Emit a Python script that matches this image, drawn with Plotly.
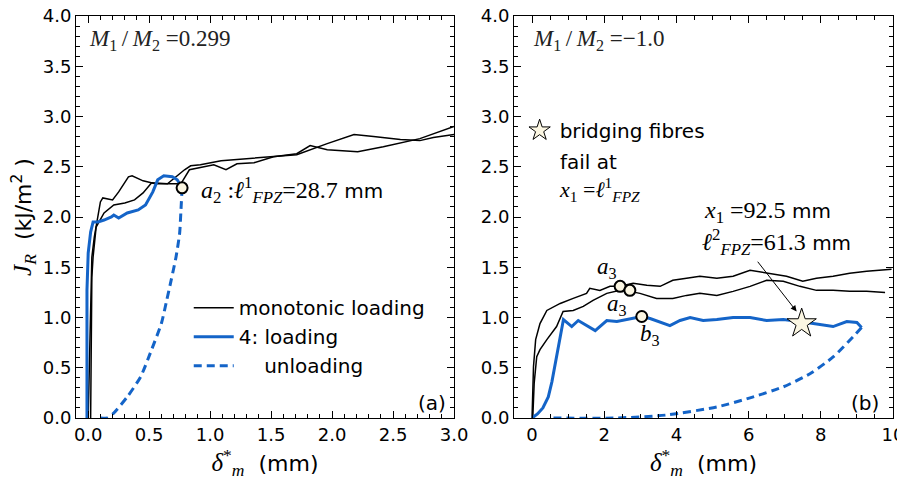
import plotly.graph_objects as go

# ---------------- data: panel (a) M1/M2 = 0.299 ----------------
a_mono1_x = [0.0, 0.01, 0.02, 0.03, 0.05, 0.07, 0.10, 0.12, 0.20, 0.25, 0.33, 0.36, 0.45, 0.55, 0.76, 0.83,
             0.92, 1.03, 1.13, 1.22, 1.36, 1.52, 1.71, 1.82, 1.96, 2.21, 2.42, 2.72, 3.0]
a_mono1_y = [0.0, 0.5, 1.2, 1.6, 1.8, 1.95, 2.15, 2.19, 2.17, 2.25, 2.40, 2.41, 2.36, 2.33, 2.33, 2.47,
             2.49, 2.52, 2.47, 2.53, 2.54, 2.60, 2.63, 2.71, 2.67, 2.65, 2.70, 2.78, 2.90]
a_mono2_x = [0.02, 0.025, 0.03, 0.04, 0.065, 0.13, 0.21, 0.30, 0.38, 0.45, 0.52, 0.65, 0.79, 0.84, 0.92,
             1.09, 1.28, 1.47, 1.71, 1.96, 2.18, 2.34, 2.56, 2.72, 2.83, 3.0]
a_mono2_y = [0.0, 0.8, 1.4, 1.6, 1.90, 2.04, 2.12, 2.14, 2.17, 2.24, 2.34, 2.33, 2.47, 2.51, 2.52,
             2.56, 2.58, 2.60, 2.62, 2.73, 2.82, 2.80, 2.77, 2.76, 2.79, 2.82]
a_load_x = [-0.01, -0.01, 0.0, 0.02, 0.04, 0.08, 0.13, 0.19, 0.21, 0.25, 0.32, 0.41, 0.47, 0.53, 0.57,
            0.62, 0.69, 0.73, 0.77]
a_load_y = [0.0, 1.27, 1.64, 1.85, 1.95, 1.95, 1.97, 2.00, 2.02, 1.99, 2.04, 2.07, 2.12, 2.25, 2.37,
            2.41, 2.40, 2.37, 2.29]
a_unload_x = [0.77, 0.76, 0.75, 0.72, 0.68, 0.64, 0.60, 0.52, 0.43, 0.32, 0.21, 0.16, 0.10]
a_unload_y = [2.29, 2.05, 1.84, 1.60, 1.37, 1.15, 0.94, 0.68, 0.41, 0.21, 0.05, 0.0, 0.0]
a_point_x = [0.77]
a_point_y = [2.29]

# ---------------- data: panel (b) M1/M2 = -1.0 ----------------
b_mono1_x = [0, 0.02, 0.04, 0.1, 0.22, 0.41, 0.78, 1.14, 1.51, 1.6, 1.88, 2.16, 2.44, 2.8, 3.18, 3.55, 3.9, 4.28,
             4.65, 5.12, 5.57, 6.04, 6.5, 7.05, 7.5, 7.88, 8.34, 8.8, 9.27, 9.96]
b_mono1_y = [0, 0.3, 0.51, 0.78, 0.94, 1.07, 1.14, 1.19, 1.24, 1.29, 1.27, 1.31, 1.31, 1.34, 1.32, 1.31, 1.37, 1.39,
             1.41, 1.39, 1.41, 1.47, 1.44, 1.41, 1.36, 1.39, 1.41, 1.44, 1.46, 1.48]
b_mono2_x = [0.02, 0.06, 0.13, 0.22, 0.41, 0.68, 0.86, 1.14, 1.42, 1.69, 2.07, 2.44, 2.71, 2.99, 3.45, 3.9,
             4.28, 4.65, 5.12, 5.57, 6.04, 6.5, 6.96, 7.42, 7.88, 8.34, 8.8, 9.27, 9.78]
b_mono2_y = [0, 0.35, 0.61, 0.68, 0.78, 0.91, 1.06, 1.07, 1.11, 1.17, 1.24, 1.27, 1.26, 1.24, 1.19, 1.19,
             1.22, 1.24, 1.22, 1.26, 1.31, 1.37, 1.36, 1.31, 1.27, 1.27, 1.26, 1.26, 1.25]
b_load_x = [0, 0.15, 0.3, 0.45, 0.55, 0.64, 0.73, 0.82, 0.87, 1.10, 1.28, 1.75, 2.07, 2.35, 2.62, 3.04, 3.27,
            3.82, 4.1, 4.38, 4.74, 5.12, 5.57, 6.04, 6.5, 6.96, 7.42, 7.97, 8.34, 8.72, 9.0, 9.13]
b_load_y = [0, 0.04, 0.10, 0.21, 0.36, 0.54, 0.72, 0.90, 0.98, 0.91, 0.97, 0.87, 0.97, 0.96, 0.98, 1.01, 0.99,
            0.92, 0.97, 1.00, 0.97, 0.98, 1.00, 1.00, 0.97, 0.98, 0.96, 0.93, 0.91, 0.96, 0.95, 0.90]
b_unload_x = [9.13, 8.9, 8.35, 7.7, 6.96, 6.04, 5.12, 3.73, 2.35, 0.5]
b_unload_y = [0.90, 0.81, 0.61, 0.44, 0.31, 0.20, 0.11, 0.03, 0.0, 0.0]
b_points_x = [2.44, 2.71, 3.04]
b_points_y = [1.31, 1.27, 1.01]
b_star_x = [7.47]
b_star_y = [0.94]

BLUE = "#1464c8"
CREAM = "#fbf6e2"
SANS = "DejaVu Sans"
SERIF = "Liberation Serif"


def m(s, size=23):
    return f"<span style='font-family:{SERIF};font-size:{size}px'>{s}</span>"


fig = go.Figure()

# panel (a)
fig.add_trace(go.Scatter(x=a_mono1_x, y=a_mono1_y, mode="lines", line=dict(color="black", width=1.5),
                         name="monotonic loading", legendgroup="g1", xaxis="x", yaxis="y"))
fig.add_trace(go.Scatter(x=a_mono2_x, y=a_mono2_y, mode="lines", line=dict(color="black", width=1.5),
                         showlegend=False, xaxis="x", yaxis="y"))
fig.add_trace(go.Scatter(x=a_load_x, y=a_load_y, mode="lines", line=dict(color=BLUE, width=3),
                         name="4: loading", legendgroup="g2", xaxis="x", yaxis="y"))
fig.add_trace(go.Scatter(x=a_unload_x, y=a_unload_y, mode="lines",
                         line=dict(color=BLUE, width=3, dash="8px,5px", shape="spline", smoothing=0.6),
                         name="\u00a0\u00a0\u00a0\u00a0unloading", legendgroup="g3", xaxis="x", yaxis="y"))
fig.add_trace(go.Scatter(x=a_point_x, y=a_point_y, mode="markers",
                         marker=dict(size=11, color=CREAM, line=dict(color="black", width=2)),
                         showlegend=False, xaxis="x", yaxis="y"))

# panel (b)
fig.add_trace(go.Scatter(x=b_mono1_x, y=b_mono1_y, mode="lines", line=dict(color="black", width=1.5),
                         showlegend=False, xaxis="x2", yaxis="y2"))
fig.add_trace(go.Scatter(x=b_mono2_x, y=b_mono2_y, mode="lines", line=dict(color="black", width=1.5),
                         showlegend=False, xaxis="x2", yaxis="y2"))
fig.add_trace(go.Scatter(x=b_load_x, y=b_load_y, mode="lines", line=dict(color=BLUE, width=3),
                         showlegend=False, xaxis="x2", yaxis="y2"))
fig.add_trace(go.Scatter(x=b_unload_x, y=b_unload_y, mode="lines",
                         line=dict(color=BLUE, width=3, dash="8px,5px", shape="spline", smoothing=0.6),
                         showlegend=False, xaxis="x2", yaxis="y2"))
fig.add_trace(go.Scatter(x=b_points_x, y=b_points_y, mode="markers",
                         marker=dict(size=11, color=CREAM, line=dict(color="black", width=2)),
                         showlegend=False, xaxis="x2", yaxis="y2"))
fig.add_trace(go.Scatter(x=b_star_x, y=b_star_y, mode="markers",
                         marker=dict(symbol="star", size=22, color=CREAM, line=dict(color="black", width=1)),
                         name="bridging fibres", legend="legend2", xaxis="x2", yaxis="y2"))

axis_common = dict(showline=True, linecolor="black", linewidth=1, mirror="allticks", ticks="inside",
                   ticklen=7, tickcolor="black", showgrid=False, zeroline=False, automargin=False,
                   ticklabeloverflow="allow",
                   tickfont=dict(family=SANS, size=18, color="black"))

xtitle = dict(text=f"{m('<i>δ</i><sup>*</sup><sub><i>m</i></sub>', 25)}  (mm)",
              font=dict(family=SANS, size=22, color="black"), standoff=4)

# the page body adds an 8px offset; margins compensate so the plot area sits at x 76-893, y 16-418
fig.update_layout(
    width=905, height=477,
    margin=dict(l=68, r=20, t=8, b=67, autoexpand=False),
    paper_bgcolor="white", plot_bgcolor="white",
    font=dict(family=SANS, color="black"),
    xaxis=dict(domain=[0, 0.4627], range=[-0.1, 3.0], dtick=0.5, tickformat=".1f",
               minor=dict(ticks="inside", ticklen=4, dtick=0.1, tickcolor="black"),
               anchor="y", title=xtitle, **axis_common),
    yaxis=dict(domain=[0, 1], range=[0, 4.0], dtick=0.5, tickformat=".1f",
               minor=dict(ticks="inside", ticklen=4, dtick=0.1, tickcolor="black"),
               anchor="x",
               title=dict(text=f"{m('<i>J</i><sub><i>R</i></sub>', 25)}  (kJ/m<sup>2</sup> )",
                          font=dict(family=SANS, size=22, color="black"), standoff=6),
               **axis_common),
    xaxis2=dict(domain=[0.5361, 1], range=[-0.5, 10], dtick=2,
                minor=dict(ticks="inside", ticklen=4, dtick=0.5, tickcolor="black"),
                anchor="y2", title=xtitle, **axis_common),
    yaxis2=dict(domain=[0, 1], range=[0, 4.0], dtick=0.5, tickformat=".1f",
                minor=dict(ticks="inside", ticklen=4, dtick=0.1, tickcolor="black"),
                anchor="x2", **axis_common),
    legend=dict(x=0.138, y=0.323, xanchor="left", yanchor="top", bgcolor="rgba(0,0,0,0)",
                font=dict(family=SANS, size=20, color="black"), tracegroupgap=0, itemwidth=40),
    legend2=dict(x=0.543, y=0.764, xanchor="left", yanchor="top", bgcolor="rgba(0,0,0,0)",
                 font=dict(family=SANS, size=20, color="black"), itemwidth=30),
)

ann_font = dict(family=SANS, size=20, color="black")
annotations = [
    dict(xref="x domain", yref="y domain", x=0.03, y=0.94, xanchor="left", yanchor="middle", showarrow=False,
         text=m("<i>M</i><sub>1</sub>\u2009/\u2009<i>M</i><sub>2</sub> =0.299"), font=dict(family=SERIF, size=23, color="#222")),
    dict(xref="x2 domain", yref="y2 domain", x=0.045, y=0.94, xanchor="left", yanchor="middle", showarrow=False,
         text=m("<i>M</i><sub>1</sub>\u2009/\u2009<i>M</i><sub>2</sub> =−1.0"), font=dict(family=SERIF, size=23, color="#222")),
    dict(xref="x", yref="y", x=0.91, y=2.27, xanchor="left", yanchor="middle", showarrow=False,
         text=m("<i>a</i><sub>2</sub> :<i>ℓ</i><sup>1</sup><sub><i>FPZ</i></sub>=28.7", 24) + " mm", font=ann_font),
    dict(xref="x domain", yref="y domain", x=0.983, y=0.038, xanchor="right", yanchor="middle", showarrow=False,
         text="(a)", font=ann_font),
    dict(xref="x2 domain", yref="y2 domain", x=0.968, y=0.038, xanchor="right", yanchor="middle", showarrow=False,
         text="(b)", font=ann_font),
    dict(xref="x2 domain", yref="y2 domain", x=0.115, y=0.638, xanchor="left", yanchor="middle", showarrow=False,
         text="fail at", font=ann_font),
    dict(xref="x2 domain", yref="y2 domain", x=0.113, y=0.568, xanchor="left", yanchor="middle", showarrow=False,
         text=m("<i>x</i><sub>1</sub> =<i>ℓ</i><sup>1</sup><sub><i>FPZ</i></sub>", 22), font=ann_font),
    dict(xref="x2 domain", yref="y2 domain", x=0.495, y=0.512, xanchor="left", yanchor="middle", showarrow=False,
         text=m("<i>x</i><sub>1</sub> =92.5", 24) + " mm", font=ann_font),
    dict(xref="x2 domain", yref="y2 domain", x=0.49, y=0.437, xanchor="left", yanchor="middle", showarrow=False,
         text=m("<i>ℓ</i><sup>2</sup><sub><i>FPZ</i></sub>=61.3", 24) + " mm", font=ann_font),
    dict(xref="x2", yref="y2", x=2.07, y=1.49, showarrow=False, text=m("<i>a</i><sub>3</sub>"), font=ann_font),
    dict(xref="x2", yref="y2", x=2.35, y=1.12, showarrow=False, text=m("<i>a</i><sub>3</sub>"), font=ann_font),
    dict(xref="x2", yref="y2", x=3.27, y=0.83, showarrow=False, text=m("<i>b</i><sub>3</sub>"), font=ann_font),
    dict(xref="x2", yref="y2", axref="x2", ayref="y2", x=7.33, y=1.06, ax=6.22, ay=1.57, text="",
         showarrow=True, arrowhead=2, arrowsize=1.2, arrowwidth=1, arrowcolor="black"),
]
fig.update_layout(annotations=annotations)

fig.write_html("out.html")
